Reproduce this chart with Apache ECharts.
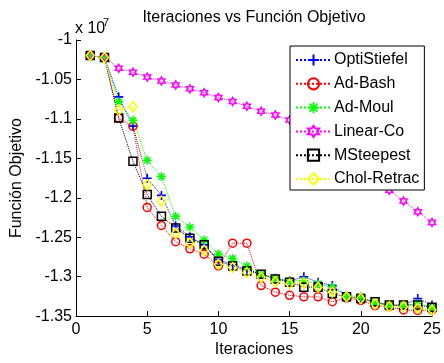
<!DOCTYPE html>
<html>
<head>
<meta charset="utf-8">
<script src="https://cdn.jsdelivr.net/npm/echarts@6/dist/echarts.min.js"></script>
<style>
html,body{margin:0;padding:0;background:#fff;}
#chart{width:444px;height:363px;}
</style>
</head>
<body>
<div id="chart"></div>
<script>
// ---- data (values in units of 1e7) ----
const iterations = [1,2,3,4,5,6,7,8,9,10,11,12,13,14,15,16,17,18,19,20,21,22,23,24,25];
const seriesNames = ['OptiStiefel','Ad-Bash','Ad-Moul','Linear-Co','MSteepest','Chol-Retrac'];
const optiStiefel = [-1.0198,-1.0223,-1.0721,-1.1092,-1.1752,-1.1970,-1.2358,-1.2494,-1.2597,-1.2783,-1.2850,-1.2906,-1.2968,-1.3021,-1.3055,-1.3001,-1.3071,-1.3113,-1.3240,-1.3290,-1.3330,-1.3364,-1.3364,-1.3277,-1.3360];
const adBash = [-1.0198,-1.0223,-1.0990,-1.1092,-1.2123,-1.2350,-1.2556,-1.2647,-1.2715,-1.2865,-1.2576,-1.2576,-1.3113,-1.3197,-1.3236,-1.3256,-1.3256,-1.3318,-1.3270,-1.3302,-1.3368,-1.3380,-1.3422,-1.3429,-1.3420];
const adMoul = [-1.0198,-1.0223,-1.0783,-1.1018,-1.1525,-1.1731,-1.2235,-1.2371,-1.2535,-1.2712,-1.2770,-1.2865,-1.2968,-1.3021,-1.3055,-1.3051,-1.3092,-1.3133,-1.3240,-1.3253,-1.3330,-1.3364,-1.3364,-1.3339,-1.3389];
const linearCo = [-1.0198,-1.0223,-1.0359,-1.0408,-1.0470,-1.0519,-1.0569,-1.0618,-1.0668,-1.0730,-1.0779,-1.0841,-1.0903,-1.0952,-1.1014,-1.1125,-1.1249,-1.1373,-1.1496,-1.1632,-1.1768,-1.1905,-1.2041,-1.2177,-1.2313];
const mSteepest = [-1.0198,-1.0223,-1.0989,-1.1537,-1.1960,-1.2235,-1.2383,-1.2514,-1.2597,-1.2804,-1.2865,-1.2927,-1.2968,-1.3030,-1.3071,-1.3133,-1.3133,-1.3215,-1.3256,-1.3277,-1.3318,-1.3360,-1.3360,-1.3360,-1.3389];
const cholRetrac = [-1.0198,-1.0223,-1.0887,-1.0845,-1.1834,-1.2041,-1.2452,-1.2576,-1.2665,-1.2844,-1.2885,-1.2947,-1.3009,-1.3063,-1.3092,-1.3083,-1.3133,-1.3194,-1.3256,-1.3277,-1.3348,-1.3380,-1.3380,-1.3401,-1.3422];
const xMin = 0, xMax = 25, xStep = 5;
const yMin = -1.35, yMax = -1, yStep = 0.05;
const titleText = 'Iteraciones vs Función Objetivo';
const xName = 'Iteraciones';
const yName = 'Función Objetivo';

// ---- styling ----
const FONT = '"Liberation Sans", Arial, Helvetica, sans-serif';
const PLUS = 'path://M4.1,0 H5.9 V4.1 H10 V5.9 H5.9 V10 H4.1 V5.9 H0 V4.1 H4.1 Z';
const STAR = 'path://M4.2,0 H5.8 V10 H4.2 Z M0,4.2 H10 V5.8 H0 Z M2.07,0.93 L9.07,7.93 L7.93,9.07 L0.93,2.07 Z M9.07,2.07 L2.07,9.07 L0.93,7.93 L7.93,0.93 Z';
const HEX = 'path://M5,0 L6.44,2.5 L9.33,2.5 L7.89,5 L9.33,7.5 L6.44,7.5 L5,10 L3.56,7.5 L0.67,7.5 L2.11,5 L0.67,2.5 L3.56,2.5 Z';

const styles = [
  {data: optiStiefel, color:'#0000ff', symbol: PLUS, size: 9, filled: true},
  {data: adBash, color:'#ff0000', symbol: 'circle', size: 8, filled: false},
  {data: adMoul, color:'#00ff00', symbol: STAR, size: 9, filled: true},
  {data: linearCo, color:'#ff00ff', symbol: HEX, size: 8, filled: false},
  {data: mSteepest, color:'#000000', symbol: 'rect', size: 8, filled: false},
  {data: cholRetrac, color:'#ffff00', symbol: 'diamond', size: [8,10], filled: false}
];

const series = styles.map((s, i) => ({
  name: seriesNames[i],
  type: 'line',
  data: iterations.map((x, k) => [x, s.data[k]]),
  symbol: s.symbol,
  symbolSize: s.size,
  symbolKeepAspect: true,
  showAllSymbol: true,
  lineStyle: {color: s.color, width: 1, type: 'dotted'},
  itemStyle: s.filled ? {color: s.color, borderWidth: 0} : {color: 'rgba(0,0,0,0)', borderColor: s.color, borderWidth: 1.5},
  emphasis: {disabled: true},
  animation: false
}));

const chart = echarts.init(document.getElementById('chart'), null, {renderer: 'canvas'});
chart.setOption({
  animation: false,
  backgroundColor: '#ffffff',
  textStyle: {fontFamily: FONT, color: '#000'},
  grid: {left: 76, right: 12, top: 40, bottom: 40, containLabel: false},
  xAxis: {
    type: 'value', min: xMin, max: xMax, interval: xStep,
    name: xName, nameLocation: 'middle', nameGap: 22,
    nameTextStyle: {fontSize: 16, color: '#000', fontFamily: FONT},
    axisLine: {lineStyle: {color: '#000', width: 1}},
    axisTick: {show: true, inside: true, length: 5, lineStyle: {color: '#000'}},
    axisLabel: {fontSize: 16, color: '#000', margin: 5, fontFamily: FONT},
    splitLine: {show: false}
  },
  yAxis: {
    type: 'value', min: yMin, max: yMax, interval: yStep,
    name: yName, nameLocation: 'middle', nameGap: 41,
    nameTextStyle: {fontSize: 16, color: '#000', fontFamily: FONT},
    axisLine: {show: true, lineStyle: {color: '#000', width: 1}},
    axisTick: {show: true, inside: true, length: 5, lineStyle: {color: '#000'}},
    axisLabel: {fontSize: 16, color: '#000', margin: 4, fontFamily: FONT,
      formatter: v => String(+v.toFixed(2))},
    splitLine: {show: false}
  },
  legend: {
    orient: 'vertical', left: 290, top: 46,
    backgroundColor: '#fff', borderColor: '#000', borderWidth: 1,
    padding: [6, 5, 3, 5],
    itemWidth: 35, itemHeight: 14, itemGap: 7.8,
    textStyle: {fontSize: 16, color: '#000', fontFamily: FONT, padding: [0,0,0,-2]},
    data: seriesNames
  },
  graphic: [
    {type: 'text', x: 254, y: 10, style: {text: titleText, font: '16px ' + FONT, fill: '#000', textAlign: 'center'}},
    {type: 'text', x: 75, y: 21, style: {text: 'x 10', font: '16px ' + FONT, fill: '#000'}},
    {type: 'text', x: 103, y: 17, style: {text: '7', font: '11px ' + FONT, fill: '#000'}}
  ],
  series: series
});
</script>
</body>
</html>
